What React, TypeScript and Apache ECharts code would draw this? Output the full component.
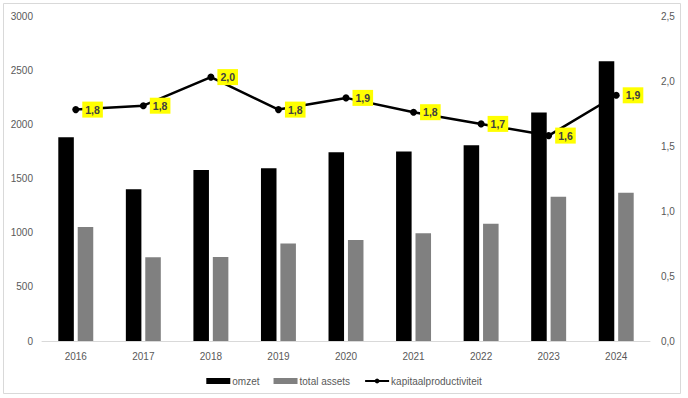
import React, { useEffect, useRef } from "react";
import * as echarts from "echarts";

const categories = ["2016", "2017", "2018", "2019", "2020", "2021", "2022", "2023", "2024"];
const omzet = [1880, 1400, 1578, 1595, 1743, 1750, 1808, 2110, 2582];
const totalAssets = [1053, 772, 775, 899, 932, 994, 1083, 1332, 1369];
const kapitaalproductiviteit = [1.78, 1.81, 2.03, 1.78, 1.87, 1.76, 1.67, 1.58, 1.89];

const FONT = "'Liberation Sans', 'DejaVu Sans', sans-serif";
const fmt = (v: number) => v.toFixed(1).replace(".", ",");

export default function App() {
  const ref = useRef<HTMLDivElement>(null);
  useEffect(() => {
    document.body.style.margin = "0";
    if (!ref.current) return;
    const chart = echarts.init(ref.current, null, { renderer: "svg" });
    chart.setOption({
      animation: false,
      backgroundColor: "#ffffff",
      textStyle: { fontFamily: FONT },
      graphic: [
        {
          type: "rect",
          shape: { x: 3.5, y: 3.5, width: 677, height: 390 },
          style: { fill: "none", stroke: "#d9d9d9", lineWidth: 1 },
          silent: true,
        },
      ],
      grid: { left: 42, right: 38, top: 16, bottom: 57, containLabel: false },
      legend: {
        left: "center",
        top: 371,
        itemWidth: 24,
        itemHeight: 6,
        itemGap: 14,
        textStyle: { color: "#595959", fontSize: 10, fontFamily: FONT, padding: [0, 0, 0, -3] },
        data: [
          { name: "omzet", icon: "rect" },
          { name: "total assets", icon: "rect" },
          { name: "kapitaalproductiviteit" },
        ],
      },
      xAxis: {
        type: "category",
        data: categories,
        axisLine: { show: true, lineStyle: { color: "#d9d9d9", width: 1 } },
        axisTick: { show: false },
        axisLabel: { color: "#595959", fontSize: 10, margin: 10, fontFamily: FONT },
      },
      yAxis: [
        {
          type: "value",
          min: 0,
          max: 3000,
          interval: 500,
          axisLine: { show: false },
          axisTick: { show: false },
          splitLine: { show: false },
          axisLabel: {
            color: "#595959",
            fontSize: 10,
            margin: 9,
            fontFamily: FONT,
            formatter: (v: number) => String(v),
          },
        },
        {
          type: "value",
          min: 0,
          max: 2.5,
          interval: 0.5,
          position: "right",
          axisLine: { show: false },
          axisTick: { show: false },
          splitLine: { show: false },
          axisLabel: {
            color: "#595959",
            fontSize: 10,
            margin: 11,
            fontFamily: FONT,
            formatter: (v: number) => fmt(v),
          },
        },
      ],
      series: [
        {
          name: "omzet",
          type: "bar",
          data: omzet,
          barWidth: "23%",
          barGap: "25%",
          itemStyle: { color: "#000000" },
        },
        {
          name: "total assets",
          type: "bar",
          data: totalAssets,
          barWidth: "23%",
          barGap: "25%",
          itemStyle: { color: "#808080" },
        },
        {
          name: "kapitaalproductiviteit",
          type: "line",
          yAxisIndex: 1,
          data: kapitaalproductiviteit,
          symbol: "circle",
          symbolSize: 7,
          z: 5,
          lineStyle: { color: "#000000", width: 2.5 },
          itemStyle: { color: "#000000" },
          label: {
            show: true,
            position: "right",
            distance: 3,
            backgroundColor: "#ffff00",
            padding: [3, 3, 2, 3],
            color: "#404040",
            fontWeight: "bold",
            fontSize: 10.5,
            fontFamily: FONT,
            formatter: (p: any) => fmt(p.value),
          },
        },
      ],
    });
    return () => chart.dispose();
  }, []);
  return <div ref={ref} style={{ width: 688, height: 398 }} />;
}
